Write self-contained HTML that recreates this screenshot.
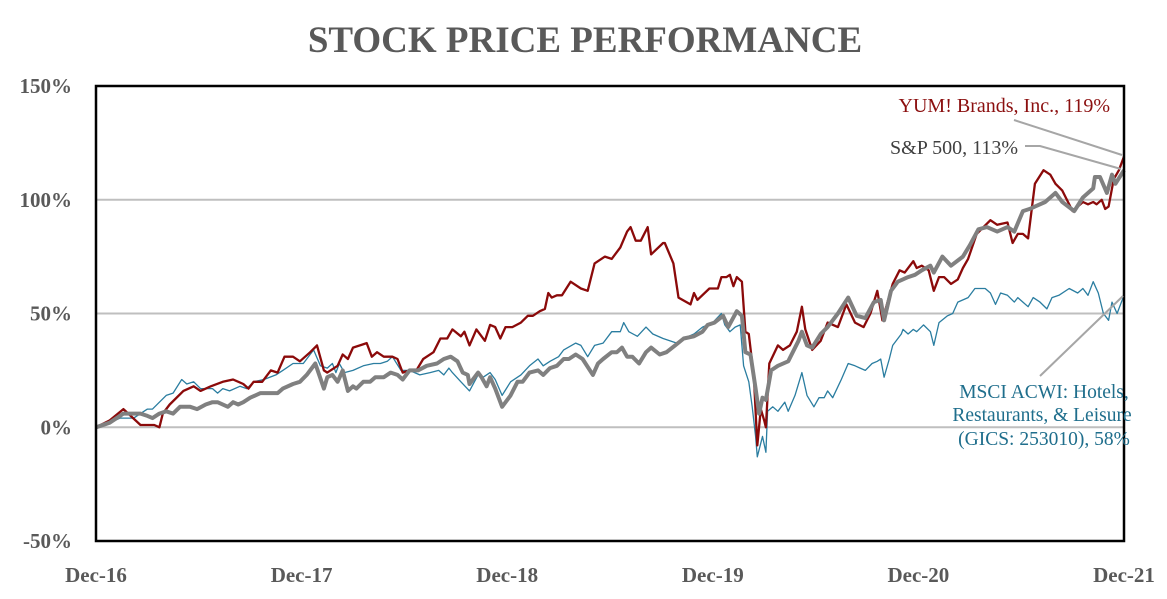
<!DOCTYPE html>
<html><head><meta charset="utf-8"><style>
html,body{margin:0;padding:0;background:#fff}
svg{display:block}
text{font-family:"Liberation Serif",serif}
</style></head><body>
<svg id="chart" width="1167" height="599" viewBox="0 0 1167 599">
<text x="585" y="52" text-anchor="middle" font-size="37" font-weight="bold" fill="#595959">STOCK PRICE PERFORMANCE</text>
<g id="grid"></g>
<g id="ylab"></g>
<g id="xlab"></g>
<g id="series"></g>
<rect x="96" y="86" width="1028" height="455" fill="none" stroke="#000" stroke-width="2.5"/>
<g>
<line x1="1014" y1="120" x2="1122" y2="155" stroke="#a6a6a6" stroke-width="2"/>
<text x="1110" y="112" text-anchor="end" font-size="20" fill="#8b0f0f">YUM! Brands, Inc., 119%</text>
<polyline points="1025,146 1040,146 1121,169" fill="none" stroke="#a6a6a6" stroke-width="2"/>
<text x="1018" y="154" text-anchor="end" font-size="20" fill="#404040">S&amp;P 500, 113%</text>
<line x1="1040" y1="376" x2="1123" y2="296" stroke="#a6a6a6" stroke-width="2"/>
<g fill="#1f6e8c" font-size="19.5" text-anchor="middle">
<text x="1044" y="398">MSCI ACWI: Hotels,</text>
<text x="1042" y="421">Restaurants, &amp; Leisure</text>
<text x="1044" y="445">(GICS: 253010), 58%</text>
</g>
</g>
</svg>
<script>
const yTicks = [-50, 0, 50, 100, 150];
const xTickLabels = ["Dec-16","Dec-17","Dec-18","Dec-19","Dec-20","Dec-21"];
const yumT = [0,0.8,1.6,2.6,3.4,3.7,3.9,4.3,5.1,5.7,6.1,6.7,7.4,8.0,8.6,8.9,9.2,9.7,10.2,10.6,11.0,11.5,11.9,12.5,12.9,13.3,13.5,14.1,14.4,14.7,15.0,15.4,15.8,16.1,16.4,16.8,17.3,17.6,17.9,18.3,18.7,19.1,19.7,20.1,20.5,20.8,21.3,21.5,21.8,22.2,22.7,23.0,23.3,23.6,23.9,24.3,24.8,25.2,25.5,25.9,26.2,26.4,26.6,26.9,27.2,27.7,28.3,28.7,29.1,29.7,30.1,30.6,31.0,31.2,31.5,31.8,32.2,32.4,33.1,33.2,33.7,34.0,34.7,34.9,35.1,35.8,36.3,36.5,36.8,37.0,37.2,37.4,37.7,37.9,38.1,38.4,38.6,38.8,39.0,39.1,39.3,39.8,40.1,40.5,40.9,41.2,41.4,41.8,42.3,42.7,43.3,43.8,44.3,44.8,45.2,45.6,45.9,46.5,46.9,47.2,47.7,47.9,48.2,48.6,48.9,49.2,49.5,49.9,50.3,50.6,50.9,51.4,51.8,52.2,52.6,53.2,53.5,53.8,54.1,54.4,54.8,55.3,55.7,56.0,56.4,57.0,57.6,57.9,58.2,58.4,58.7,58.9,59.1,59.4,59.7,60];
const yumV = [0,3,8,1,1,0,6,10,16,18,16,18,20,21,19,17,20,20,25,24,31,31,29,33,36,25,24,27,32,30,35,36,37,31,33,31,31,30,24,25,25,30,33,39,39,43,40,42,36,43,38,45,44,39,44,44,46,49,49,51,52,59,57,58,58,64,61,60,72,75,74,79,86,88,82,82,88,76,81,81,72,57,54,59,56,61,61,66,66,67,62,66,64,42,41,22,-8,8,3,0,28,36,34,36,42,53,43,34,38,46,44,54,46,44,50,60,47,63,69,68,73,70,71,69,60,66,66,63,65,70,74,85,88,91,89,90,81,85,85,83,107,113,111,107,104,95,99,98,99,98,100,96,97,109,113,119];
const spT = [0,0.8,1.6,2.2,2.6,3.0,3.3,3.7,4.1,4.5,4.9,5.5,5.9,6.4,6.8,7.1,7.7,8.0,8.3,8.6,9.0,9.6,10.2,10.6,10.9,11.5,11.9,12.3,12.8,13.3,13.5,13.8,14.1,14.4,14.7,15.0,15.2,15.6,16.0,16.3,16.8,17.2,17.6,17.9,18.3,18.8,19.3,19.9,20.3,20.7,21.1,21.4,21.7,21.8,22.3,22.5,22.8,23.0,23.3,23.7,24.2,24.6,24.9,25.3,25.8,26.1,26.5,26.9,27.3,27.6,28.0,28.4,29.0,29.3,29.6,30.1,30.4,30.7,31.0,31.3,31.7,32.1,32.4,32.9,33.3,33.8,34.3,34.9,35.4,35.7,36.1,36.6,36.9,37.4,37.7,37.9,38.2,38.5,38.7,38.9,39.1,39.4,39.8,40.4,41.0,41.2,41.5,41.8,42.3,42.7,43.3,43.9,44.4,44.9,45.4,45.8,46.0,46.4,46.8,47.4,47.8,48.2,48.7,48.9,49.4,49.9,50.6,51.0,51.5,52.0,52.6,53.2,53.6,54.1,54.5,54.8,55.4,56.0,56.4,57.1,57.6,58.2,58.3,58.6,59.0,59.3,59.5,60];
const spV = [0,2,6,6,6,5,4,6,7,6,9,9,8,10,11,11,9,11,10,11,13,15,15,15,17,19,20,23,28,17,22,23,20,25,16,18,17,20,20,22,22,24,23,21,25,25,27,28,30,31,29,24,23,19,24,22,18,22,17,9,14,20,20,24,25,23,26,27,30,30,32,30,23,28,30,33,33,35,31,31,28,33,35,32,33,36,39,40,42,45,46,49,44,51,49,33,32,17,6,13,12,25,27,29,38,42,36,35,41,44,50,57,49,48,55,56,47,60,64,66,67,69,71,68,75,71,75,80,87,88,86,88,86,95,96,97,99,103,99,95,101,105,110,110,103,111,107,113];
const acT = [0,0.8,1.4,1.8,2.2,2.6,3.0,3.3,3.7,4.1,4.5,5.0,5.3,5.7,6.1,6.5,6.8,7.1,7.4,7.8,8.4,8.8,9.2,9.8,10.5,10.9,11.5,12.1,12.7,13.1,13.5,13.8,14.0,14.2,14.5,15.0,15.6,16.2,16.6,17.0,17.3,17.8,18.3,18.9,19.5,20.0,20.3,20.6,20.8,21.3,21.8,22.3,22.6,23.0,23.3,23.7,24.2,24.8,25.3,25.8,26.1,26.5,27.0,27.3,28.0,28.3,28.7,29.1,29.6,30.1,30.6,30.8,31.1,31.6,32.1,32.5,33.1,33.9,34.3,34.9,35.4,36.0,36.5,36.7,37.0,37.3,37.6,37.8,38.1,38.3,38.5,38.6,38.9,39.1,39.2,39.5,39.8,40.2,40.4,40.8,41.2,41.5,41.9,42.2,42.5,42.7,43.0,43.5,43.9,44.3,44.6,44.9,45.3,45.6,45.8,46.0,46.3,46.5,47.0,47.1,47.4,47.7,47.9,48.3,48.7,48.9,49.2,49.7,50.0,50.3,50.9,51.3,51.9,52.2,52.5,52.8,53.2,53.6,53.8,54.1,54.4,54.7,55.1,55.5,55.8,56.2,56.8,57.3,57.6,57.9,58.2,58.5,58.8,59.1,59.3,59.6,60];
const acV = [0,2,4,4,4,6,8,8,11,14,15,21,19,20,17,17,17,15,17,16,18,17,20,21,23,25,28,28,34,27,26,28,24,28,24,25,27,28,28,29,31,25,25,23,24,25,23,26,24,20,16,23,22,24,21,14,20,23,27,30,27,29,31,34,37,36,31,36,37,42,42,46,42,40,44,41,39,37,39,41,44,46,50,45,42,44,45,27,20,9,-4,-13,-4,-11,7,9,7,11,7,14,24,14,9,13,13,16,13,21,28,27,26,25,28,29,30,22,30,36,41,43,41,43,42,45,42,36,46,49,50,55,57,61,61,59,54,59,58,55,57,55,53,57,55,52,57,58,61,59,61,58,64,59,50,47,55,50,58];

const X0 = 96, X1 = 1124, Y0 = 541, Y1 = 86, TMAX = 60, VMIN = -50, VMAX = 150;
function xs(t){ return X0 + (t / TMAX) * (X1 - X0); }
function ys(v){ return Y0 - (v - VMIN) / (VMAX - VMIN) * (Y0 - Y1); }
const NS = "http://www.w3.org/2000/svg";
const grid = document.getElementById('grid');
const ylab = document.getElementById('ylab');
const xlab = document.getElementById('xlab');
yTicks.forEach(v => {
  if (v > VMIN && v < VMAX) {
    const l = document.createElementNS(NS, 'line');
    l.setAttribute('x1', X0); l.setAttribute('x2', X1);
    l.setAttribute('y1', ys(v)); l.setAttribute('y2', ys(v));
    l.setAttribute('stroke', '#bfbfbf'); l.setAttribute('stroke-width', '2');
    
    
    grid.appendChild(l);
  }
  const t = document.createElementNS(NS, 'text');
  t.setAttribute('x', 72); t.setAttribute('y', ys(v) + 7);
  t.setAttribute('text-anchor', 'end'); t.setAttribute('font-size', '21');
  t.setAttribute('font-weight', 'bold'); t.setAttribute('fill', '#595959');
  t.textContent = v + '%';
  
  
  ylab.appendChild(t);
});
xTickLabels.forEach((s, i) => {
  const t = document.createElementNS(NS, 'text');
  t.setAttribute('x', xs(i * 12)); t.setAttribute('y', 582);
  t.setAttribute('text-anchor', 'middle'); t.setAttribute('font-size', '21');
  t.setAttribute('font-weight', 'bold'); t.setAttribute('fill', '#595959');
  t.textContent = s;
  
  
  xlab.appendChild(t);
});
const seriesG = document.getElementById('series');
function drawLine(T, V, color, w, name){
  const p = document.createElementNS(NS, 'polyline');
  p.setAttribute('points', T.map((t, i) => xs(t).toFixed(1) + ',' + ys(V[i]).toFixed(1)).join(' '));
  p.setAttribute('fill', 'none'); p.setAttribute('stroke', color);
  p.setAttribute('stroke-width', w); p.setAttribute('stroke-linejoin', 'round');
  
  
  seriesG.appendChild(p);
}
drawLine(acT, acV, '#2a7da0', 1.3, 'msci-acwi-hrl-line');
drawLine(yumT, yumV, '#8b0a0a', 2.3, 'yum-brands-line');
drawLine(spT, spV, '#808080', 4, 'sp500-line');
</script>
</body></html>
